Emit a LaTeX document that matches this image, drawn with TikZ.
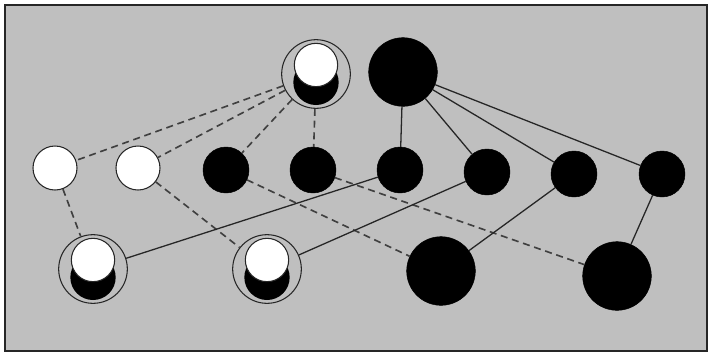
\documentclass[tikz,border=0pt]{standalone}
\usetikzlibrary{backgrounds}

\begin{document}
\begin{tikzpicture}[x=0.03cm,y=-0.03cm,
  hidden/.style={circle,draw=black!85,line width=0.9pt,fill=white,inner sep=0pt,minimum size=1.32cm},
  knot/.style={circle,draw=black,fill=black,inner sep=0pt,minimum size=1.38cm},
  bigknot/.style={circle,draw=black,fill=black,inner sep=0pt,minimum size=2.06cm},
  pairnode/.style={circle,draw=black!85,line width=0.9pt,inner sep=0pt,minimum size=2.06cm,
    path picture={
      \fill[black] ([yshift=-0.25cm]path picture bounding box.center) circle (0.68cm);
      \filldraw[fill=white,draw=black!85,line width=0.9pt] ([yshift=0.27cm]path picture bounding box.center) circle (0.65cm);
    }},
  weak/.style={dashed,dash pattern=on 6pt off 4pt,line width=1.4pt,black!75},
  strong/.style={line width=1.1pt,black!85}]
\useasboundingbox (0,0) rectangle (710,353);
\fill[black!25] (5,5) rectangle (707,351);
\draw[line width=1.6pt,black!85] (5,5) rectangle (707,351);

% top row
\node[pairnode] (t1) at (316,74) {};
\node[bigknot] (t2) at (403,72) {};

% middle row
\node[hidden] (w1) at (55,168) {};
\node[hidden] (w2) at (138,168) {};
\node[knot] (b1) at (226,170) {};
\node[knot] (b2) at (313,170) {};
\node[knot] (b3) at (400,170) {};
\node[knot] (b4) at (487,172) {};
\node[knot] (b5) at (574,174) {};
\node[knot] (b6) at (662,174) {};

% bottom row
\node[pairnode] (l1) at (93,269) {};
\node[pairnode] (l2) at (267,269) {};
\node[bigknot] (r1) at (441,271) {};
\node[bigknot] (r2) at (617,276) {};

\draw[weak] (t1) -- (w1);
\draw[weak] (t1) -- (w2);
\draw[weak] (t1) -- (b1);
\draw[weak] (t1) -- (b2);
\draw[weak] (w1) -- (l1);
\draw[weak] (w2) -- (l2);
\draw[weak] (b1) -- (r1);
\draw[weak] (b2) -- (r2);

\draw[strong] (t2) -- (b3);
\draw[strong] (t2) -- (b4);
\draw[strong] (t2) -- (b5);
\draw[strong] (t2) -- (b6);
\draw[strong] (b3) -- (l1);
\draw[strong] (b4) -- (l2);
\draw[strong] (b5) -- (r1);
\draw[strong] (b6) -- (r2);

\end{tikzpicture}
\end{document}
